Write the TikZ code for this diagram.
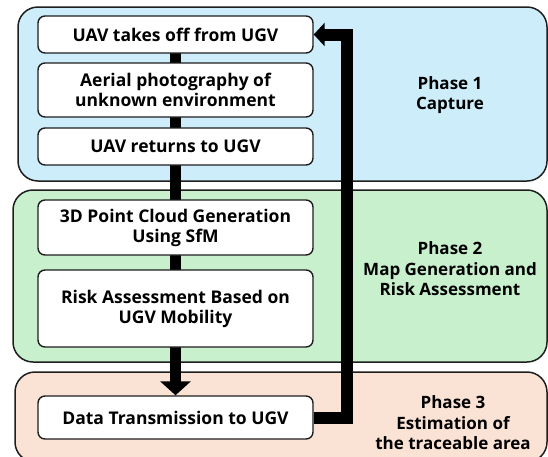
\documentclass[tikz,border=0pt]{standalone}
\usepackage{fontspec}
\setmainfont{Open Sans}
\usetikzlibrary{arrows.meta}
\definecolor{pblue}{RGB}{205,237,250}
\definecolor{pgreen}{RGB}{200,240,205}
\definecolor{ppeach}{RGB}{250,227,213}
\definecolor{edge}{RGB}{30,30,30}
\pgfdeclarelayer{phaselayer}
\pgfdeclarelayer{linklayer}
\pgfsetlayers{phaselayer,linklayer,main}
\tikzset{
  phasebox/.style={draw=edge, line width=1.5pt, rounded corners=20pt},
  stepbox/.style={draw=edge, line width=1.4pt, fill=white, rounded corners=7pt,
    minimum width=275pt, inner sep=0pt, align=center, font=\bfseries\fontsize{17.5}{20}\selectfont},
  phaselabel/.style={align=center, inner sep=0pt, font=\bfseries\fontsize{17}{20.5}\selectfont},
  spine/.style={line width=11pt, -{Triangle[width=30pt,length=14pt]}},
  retline/.style={line width=12pt, line join=miter, -{Triangle[width=23pt,length=11pt]}}
}
\begin{document}
\begin{tikzpicture}[x=1pt,y=-1pt]
\useasboundingbox (0,0) rectangle (548,456);
\begin{pgfonlayer}{phaselayer}
\path[phasebox, fill=pblue] (18,7) rectangle (547,181);
\path[phasebox, fill=pgreen] (13,190) rectangle (547,362);
\path[phasebox, fill=ppeach] (15,372) rectangle (547,462);
\end{pgfonlayer}
\node[phaselabel] (p1) at (450,95) {Phase 1\\Capture};
\node[phaselabel] (p2) at (450,269) {Phase 2\\Map Generation and\\Risk Assessment};
\node[phaselabel] (p3) at (453,423) {Phase 3\\Estimation of\\the traceable area};
\path
  (175.5,34.5) node[stepbox, minimum height=37pt] (n1) {UAV takes off from UGV}
  (175.5,90) node[stepbox, minimum height=54pt] (n2) {Aerial photography of\\unknown environment}
  (175.5,146.5) node[stepbox, minimum height=37pt] (n3) {UAV returns to UGV}
  (175.5,227.5) node[stepbox, minimum height=55pt] (n4) {3D Point Cloud Generation\\Using SfM}
  (175.5,308.5) node[stepbox, minimum height=77pt] (n5) {Risk Assessment Based on\\UGV Mobility}
  (175.5,417.5) node[stepbox, minimum height=43pt] (n6) {Data Transmission to UGV};
\coordinate (rx) at (347,0);
\begin{pgfonlayer}{linklayer}
\draw[spine] (n1.center) -- (n6.north);
\draw[retline] (n6.east) -- (n6.east -| rx) -- (n1.east -| rx) -- (n1.east);
\end{pgfonlayer}
\end{tikzpicture}
\end{document}
